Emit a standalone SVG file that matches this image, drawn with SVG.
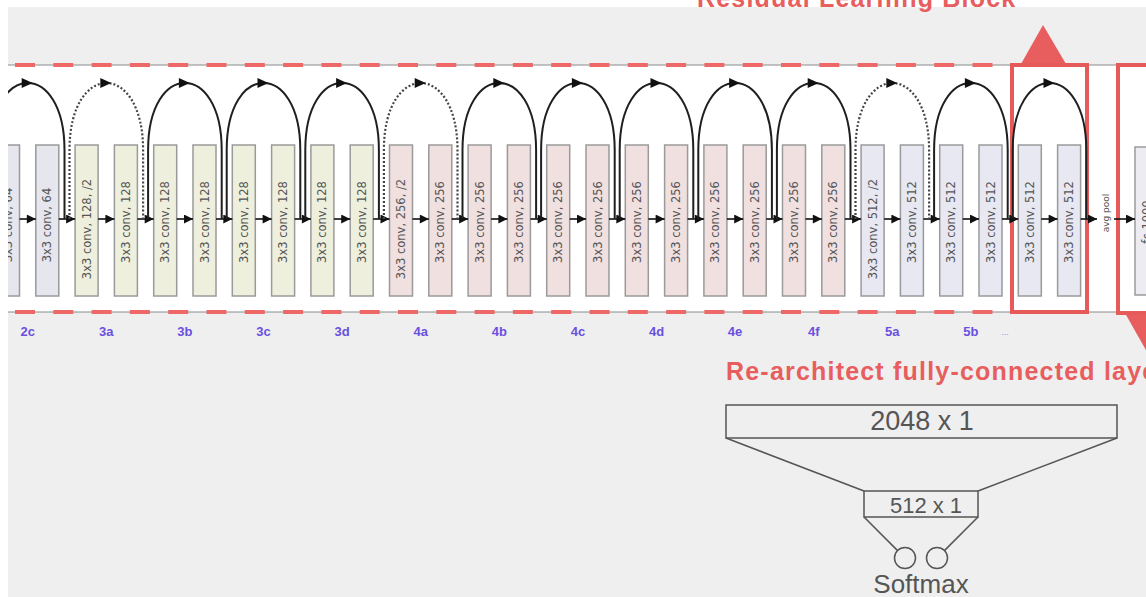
<svg xmlns="http://www.w3.org/2000/svg" xmlns:xlink="http://www.w3.org/1999/xlink" width="1146" height="597" viewBox="0 0 1146 597">
<style>
.box{stroke:#9a9a9a;stroke-width:1.5}
.c2{fill:#e6e6ef}.c3{fill:#eef0dd}.c4{fill:#f1e0e0}.c5{fill:#e7e8f1}
.bt{font-family:"DejaVu Sans",sans-serif;font-size:11.5px;fill:#555;text-anchor:middle;dominant-baseline:central}
.flow{stroke:#111;stroke-width:1.6;fill:none;marker-end:url(#ah)}
.arc{fill:none;stroke:#1f1f1f;stroke-width:2}
.dot{stroke-dasharray:2 2;stroke:#444;stroke-width:2.2}
.lbl{font-family:"Liberation Sans",Arial,sans-serif;font-weight:bold;font-size:13px;fill:#6a50e0;text-anchor:middle}
.red{fill:none;stroke:#e65a5a;stroke-width:4}
.fcl{fill:none;stroke:#555;stroke-width:1.5}
.ft{font-family:"Liberation Sans",Arial,sans-serif;fill:#555;text-anchor:middle}
.title{font-family:"Liberation Sans",Arial,sans-serif;font-weight:bold;font-size:25px;fill:#e85d5d;letter-spacing:1.2px}
.gl{stroke:#8a8a8a;stroke-width:1}
.rd{stroke:#ee6868;stroke-width:4;stroke-dasharray:20 18.3;stroke-dashoffset:31.3}
</style>
<defs>
<marker id="ah" viewBox="0 0 10 10" refX="10" refY="5" markerWidth="10" markerHeight="9" markerUnits="userSpaceOnUse" orient="auto"><path d="M0,0 L10,5 L0,10 z" fill="#111"/></marker>
<path id="pk" d="M-6,-5 L5,0 L-6,5 z" fill="#111"/>
<clipPath id="cl"><rect x="8" y="0" width="1138" height="597"/></clipPath>
</defs>
<rect x="0" y="0" width="1146" height="597" fill="#ffffff"/>
<rect x="8" y="7" width="1138" height="590" fill="#efefef"/>
<text class="title" x="697" y="7">Residual Learning Block</text>
<rect x="8" y="65" width="1138" height="247" fill="#ffffff"/>
<line class="gl" x1="8" y1="65" x2="1146" y2="65"/>
<line class="gl" x1="8" y1="312" x2="1146" y2="312"/>
<line class="rd" x1="8" y1="65" x2="1000" y2="65"/>
<line class="rd" x1="8" y1="312" x2="1000" y2="312"/>
<polygon points="1043,25 1021,64 1066,64" fill="#e85d5d"/>
<polygon points="1125,313 1169,313 1147,352" fill="#e85d5d"/>
<g clip-path="url(#cl)">
<g id="nodes">
<g id="b0"><rect class="box c2" x="-3.5" y="145" width="23" height="151"/><text class="bt" transform="translate(8,225) rotate(-90)">3x3 conv, 64</text></g>
<g id="b1"><rect class="box c2" x="35.8" y="145" width="23" height="151"/><text class="bt" transform="translate(47.3,225) rotate(-90)">3x3 conv, 64</text></g>
<g id="b2"><rect class="box c3" x="75.1" y="145" width="23" height="151"/><text class="bt" transform="translate(86.6,229) rotate(-90)">3x3 conv, 128, /2</text></g>
<g id="b3"><rect class="box c3" x="114.4" y="145" width="23" height="151"/><text class="bt" transform="translate(125.9,222) rotate(-90)">3x3 conv, 128</text></g>
<g id="b4"><rect class="box c3" x="153.7" y="145" width="23" height="151"/><text class="bt" transform="translate(165.2,222) rotate(-90)">3x3 conv, 128</text></g>
<g id="b5"><rect class="box c3" x="193" y="145" width="23" height="151"/><text class="bt" transform="translate(204.5,222) rotate(-90)">3x3 conv, 128</text></g>
<g id="b6"><rect class="box c3" x="232.3" y="145" width="23" height="151"/><text class="bt" transform="translate(243.8,222) rotate(-90)">3x3 conv, 128</text></g>
<g id="b7"><rect class="box c3" x="271.6" y="145" width="23" height="151"/><text class="bt" transform="translate(283.1,222) rotate(-90)">3x3 conv, 128</text></g>
<g id="b8"><rect class="box c3" x="310.9" y="145" width="23" height="151"/><text class="bt" transform="translate(322.4,222) rotate(-90)">3x3 conv, 128</text></g>
<g id="b9"><rect class="box c3" x="350.2" y="145" width="23" height="151"/><text class="bt" transform="translate(361.7,222) rotate(-90)">3x3 conv, 128</text></g>
<g id="b10"><rect class="box c4" x="389.5" y="145" width="23" height="151"/><text class="bt" transform="translate(401,229) rotate(-90)">3x3 conv, 256, /2</text></g>
<g id="b11"><rect class="box c4" x="428.8" y="145" width="23" height="151"/><text class="bt" transform="translate(440.3,222) rotate(-90)">3x3 conv, 256</text></g>
<g id="b12"><rect class="box c4" x="468.1" y="145" width="23" height="151"/><text class="bt" transform="translate(479.6,222) rotate(-90)">3x3 conv, 256</text></g>
<g id="b13"><rect class="box c4" x="507.4" y="145" width="23" height="151"/><text class="bt" transform="translate(518.9,222) rotate(-90)">3x3 conv, 256</text></g>
<g id="b14"><rect class="box c4" x="546.7" y="145" width="23" height="151"/><text class="bt" transform="translate(558.2,222) rotate(-90)">3x3 conv, 256</text></g>
<g id="b15"><rect class="box c4" x="586" y="145" width="23" height="151"/><text class="bt" transform="translate(597.5,222) rotate(-90)">3x3 conv, 256</text></g>
<g id="b16"><rect class="box c4" x="625.3" y="145" width="23" height="151"/><text class="bt" transform="translate(636.8,222) rotate(-90)">3x3 conv, 256</text></g>
<g id="b17"><rect class="box c4" x="664.6" y="145" width="23" height="151"/><text class="bt" transform="translate(676.1,222) rotate(-90)">3x3 conv, 256</text></g>
<g id="b18"><rect class="box c4" x="703.9" y="145" width="23" height="151"/><text class="bt" transform="translate(715.4,222) rotate(-90)">3x3 conv, 256</text></g>
<g id="b19"><rect class="box c4" x="743.2" y="145" width="23" height="151"/><text class="bt" transform="translate(754.7,222) rotate(-90)">3x3 conv, 256</text></g>
<g id="b20"><rect class="box c4" x="782.5" y="145" width="23" height="151"/><text class="bt" transform="translate(794,222) rotate(-90)">3x3 conv, 256</text></g>
<g id="b21"><rect class="box c4" x="821.8" y="145" width="23" height="151"/><text class="bt" transform="translate(833.3,222) rotate(-90)">3x3 conv, 256</text></g>
<g id="b22"><rect class="box c5" x="861.1" y="145" width="23" height="151"/><text class="bt" transform="translate(872.6,229) rotate(-90)">3x3 conv, 512, /2</text></g>
<g id="b23"><rect class="box c5" x="900.4" y="145" width="23" height="151"/><text class="bt" transform="translate(911.9,222) rotate(-90)">3x3 conv, 512</text></g>
<g id="b24"><rect class="box c5" x="939.7" y="145" width="23" height="151"/><text class="bt" transform="translate(951.2,222) rotate(-90)">3x3 conv, 512</text></g>
<g id="b25"><rect class="box c5" x="979" y="145" width="23" height="151"/><text class="bt" transform="translate(990.5,222) rotate(-90)">3x3 conv, 512</text></g>
<g id="b26"><rect class="box c5" x="1018.3" y="145" width="23" height="151"/><text class="bt" transform="translate(1029.8,222) rotate(-90)">3x3 conv, 512</text></g>
<g id="b27"><rect class="box c5" x="1057.6" y="145" width="23" height="151"/><text class="bt" transform="translate(1069.1,222) rotate(-90)">3x3 conv, 512</text></g>
<g id="avgpool"><text class="bt" style="font-size:9px" transform="translate(1106,213) rotate(-90)">avg pool</text></g>
<g id="fc"><rect class="box" fill="#ececf2" x="1135" y="147" width="30" height="148"/><text class="bt" transform="translate(1147,222) rotate(-90)">fc 1000</text></g>
<g id="redbox1"><rect class="red" x="1012" y="65" width="75" height="247"/></g>
<g id="redbox2"><rect class="red" x="1118" y="65" width="60" height="248"/></g>
</g>
<g id="connectors">
<path class="flow" d="M19.5,219 H35.8"/>
<path class="flow" d="M58.8,219 H75.1"/>
<path class="flow" d="M98.1,219 H114.4"/>
<path class="flow" d="M137.4,219 H153.7"/>
<path class="flow" d="M176.7,219 H193"/>
<path class="flow" d="M216,219 H232.3"/>
<path class="flow" d="M255.3,219 H271.6"/>
<path class="flow" d="M294.6,219 H310.9"/>
<path class="flow" d="M333.9,219 H350.2"/>
<path class="flow" d="M373.2,219 H389.5"/>
<path class="flow" d="M412.5,219 H428.8"/>
<path class="flow" d="M451.8,219 H468.1"/>
<path class="flow" d="M491.1,219 H507.4"/>
<path class="flow" d="M530.4,219 H546.7"/>
<path class="flow" d="M569.7,219 H586"/>
<path class="flow" d="M609,219 H625.3"/>
<path class="flow" d="M648.3,219 H664.6"/>
<path class="flow" d="M687.6,219 H703.9"/>
<path class="flow" d="M726.9,219 H743.2"/>
<path class="flow" d="M766.2,219 H782.5"/>
<path class="flow" d="M805.5,219 H821.8"/>
<path class="flow" d="M844.8,219 H861.1"/>
<path class="flow" d="M884.1,219 H900.4"/>
<path class="flow" d="M923.4,219 H939.7"/>
<path class="flow" d="M962.7,219 H979"/>
<path class="flow" d="M1002,219 H1018.3"/>
<path class="flow" d="M1041.3,219 H1057.6"/>
<path class="flow" d="M1080.6,219 H1097"/>
<path class="flow" d="M1114,219 H1135"/>
<path class="arc" d="M-9.2,219 V150 C-9.2,60.7 64.5,60.7 64.5,150 V219"/>
<path class="arc dot" d="M69.5,219 V150 C69.5,60.7 143.1,60.7 143.1,150 V219"/>
<path class="arc" d="M148.1,219 V150 C148.1,60.7 221.7,60.7 221.7,150 V219"/>
<path class="arc" d="M226.7,219 V150 C226.7,60.7 300.3,60.7 300.3,150 V219"/>
<path class="arc" d="M305.3,219 V150 C305.3,60.7 378.9,60.7 378.9,150 V219"/>
<path class="arc dot" d="M383.9,219 V150 C383.9,60.7 457.5,60.7 457.5,150 V219"/>
<path class="arc" d="M462.5,219 V150 C462.5,60.7 536.1,60.7 536.1,150 V219"/>
<path class="arc" d="M541.1,219 V150 C541.1,60.7 614.7,60.7 614.7,150 V219"/>
<path class="arc" d="M619.7,219 V150 C619.7,60.7 693.3,60.7 693.3,150 V219"/>
<path class="arc" d="M698.3,219 V150 C698.3,60.7 771.9,60.7 771.9,150 V219"/>
<path class="arc" d="M776.9,219 V150 C776.9,60.7 850.5,60.7 850.5,150 V219"/>
<path class="arc dot" d="M855.5,219 V150 C855.5,60.7 929.1,60.7 929.1,150 V219"/>
<path class="arc" d="M934.1,219 V150 C934.1,60.7 1007.7,60.7 1007.7,150 V219"/>
<path class="arc" d="M1012.7,219 V150 C1012.7,60.7 1086.3,60.7 1086.3,150 V219"/>
<use xlink:href="#pk" x="27.7" y="83"/>
<use xlink:href="#pk" x="106.3" y="83"/>
<use xlink:href="#pk" x="184.9" y="83"/>
<use xlink:href="#pk" x="263.5" y="83"/>
<use xlink:href="#pk" x="342.1" y="83"/>
<use xlink:href="#pk" x="420.7" y="83"/>
<use xlink:href="#pk" x="499.3" y="83"/>
<use xlink:href="#pk" x="577.9" y="83"/>
<use xlink:href="#pk" x="656.5" y="83"/>
<use xlink:href="#pk" x="735.1" y="83"/>
<use xlink:href="#pk" x="813.7" y="83"/>
<use xlink:href="#pk" x="892.3" y="83"/>
<use xlink:href="#pk" x="970.9" y="83"/>
<use xlink:href="#pk" x="1049.5" y="83"/>
<line class="fcl" x1="726" y1="438" x2="864" y2="491"/>
<line class="fcl" x1="1117" y1="438" x2="978" y2="491"/>
<line class="fcl" x1="864" y1="517" x2="897.6" y2="550.6"/>
<line class="fcl" x1="978" y1="517" x2="944.4" y2="550.6"/>
</g>
</g>
<g id="labels">
<text class="lbl" x="27.7" y="336">2c</text>
<text class="lbl" x="106.3" y="336">3a</text>
<text class="lbl" x="184.9" y="336">3b</text>
<text class="lbl" x="263.5" y="336">3c</text>
<text class="lbl" x="342.1" y="336">3d</text>
<text class="lbl" x="420.7" y="336">4a</text>
<text class="lbl" x="499.3" y="336">4b</text>
<text class="lbl" x="577.9" y="336">4c</text>
<text class="lbl" x="656.5" y="336">4d</text>
<text class="lbl" x="735.1" y="336">4e</text>
<text class="lbl" x="813.7" y="336">4f</text>
<text class="lbl" x="892.3" y="336">5a</text>
<text class="lbl" x="970.9" y="336">5b</text>
<text class="lbl" x="1005" y="335" style="font-size:9px;fill:#9a8ce6;font-weight:normal">...</text>
</g>
<text class="title" x="726" y="380">Re-architect fully-connected layer</text>
<g id="fc2048"><rect class="fcl" x="726" y="405" width="391" height="33"/><text class="ft" x="922" y="430" style="font-size:27px">2048 x 1</text></g>
<g id="fc512"><rect class="fcl" x="864" y="491" width="114" height="26"/><text class="ft" x="926" y="513" style="font-size:22px">512 x 1</text></g>
<g id="softmax"><circle class="fcl" cx="905" cy="558" r="10.5"/><circle class="fcl" cx="937" cy="558" r="10.5"/><text class="ft" x="921" y="593" style="font-size:26px">Softmax</text></g>
</svg>
